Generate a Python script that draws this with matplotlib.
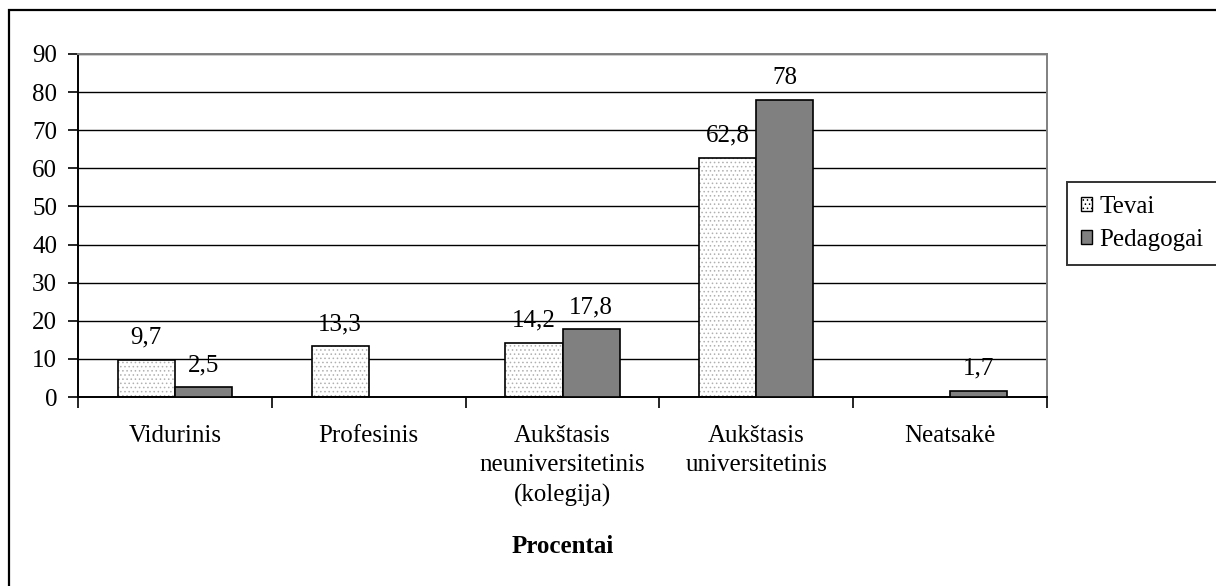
import numpy as np
import matplotlib
matplotlib.use("Agg")
import matplotlib.pyplot as plt
from matplotlib.patches import Rectangle, Patch

plt.rcParams["font.family"] = ["Liberation Serif", "DejaVu Serif"]
plt.rcParams["hatch.linewidth"] = 0.6

# ── data ─────────────────────────────────────────────────────────────────────
categories = ["Vidurinis", "Profesinis", "Aukštasis\nneuniversitetinis\n(kolegija)",
              "Aukštasis\nuniversitetinis", "Neatsakė"]
tevai      = [9.7, 13.3, 14.2, 62.8, None]
pedagogai  = [2.5, None, 17.8, 78, 1.7]
series_names = ["Tevai", "Pedagogai"]
y_ticks    = list(range(0, 91, 10))

FS = 18

fig = plt.figure(figsize=(12.16, 5.86), dpi=100)
ax = fig.add_axes([78 / 1216, 1 - 397 / 586, 969 / 1216, 343 / 586])

# outer chart-area border (clipped on right/bottom like the original)
fig.patches.append(Rectangle((9 / 1216, -0.1), 1.2, 1 - 10 / 586 + 0.1,
                             transform=fig.transFigure, fill=False,
                             edgecolor="black", linewidth=1.6, zorder=0))

x = np.arange(len(categories))
w = 0.295

def fmt(v):
    return ("%g" % v).replace(".", ",")

for i in x:
    if tevai[i] is not None:
        ax.bar(i - w / 2, tevai[i], w, color="white", edgecolor="#b0b0b0",
               hatch="....", linewidth=0, zorder=2)
        ax.bar(i - w / 2, tevai[i], w, fill=False, edgecolor="black",
               linewidth=1.2, zorder=3)
        ax.annotate(fmt(tevai[i]), (i - w / 2, tevai[i]), xytext=(0, 8),
                    textcoords="offset points", ha="center", va="bottom", fontsize=FS)
    if pedagogai[i] is not None:
        ax.bar(i + w / 2, pedagogai[i], w, color="#808080", edgecolor="black",
               linewidth=1.2, zorder=3)
        ax.annotate(fmt(pedagogai[i]), (i + w / 2, pedagogai[i]), xytext=(0, 8),
                    textcoords="offset points", ha="center", va="bottom", fontsize=FS)

ax.set_xlim(-0.5, len(categories) - 0.5)
ax.set_ylim(0, 90)
ax.set_yticks(y_ticks)
ax.tick_params(axis="y", labelsize=FS, length=7, width=1.2, direction="out", pad=8)
ax.yaxis.grid(True, color="black", linewidth=1.0, zorder=0)
ax.set_axisbelow(True)

ax.set_xticks(np.arange(-0.5, len(categories), 1.0))
ax.set_xticklabels([])
ax.set_xticks(x, minor=True)
ax.set_xticklabels(categories, minor=True, fontsize=FS, linespacing=1.45)
ax.tick_params(axis="x", which="major", length=8, width=1.2, direction="out")
ax.tick_params(axis="x", which="minor", length=0, pad=20)

for s in ["left", "bottom"]:
    ax.spines[s].set_linewidth(1.4)
    ax.spines[s].set_color("black")
for s in ["top", "right"]:
    ax.spines[s].set_linewidth(1.4)
    ax.spines[s].set_color("#808080")

ax.set_xlabel("Procentai", fontsize=FS, fontweight="bold", labelpad=20)

handles = [Patch(facecolor="white", edgecolor="black", hatch="....", linewidth=1.0),
           Patch(facecolor="#808080", edgecolor="black", linewidth=1.0)]
leg = fig.legend(handles, series_names, loc="upper left",
                 bbox_to_anchor=(1067 / 1216, 1 - 182 / 586), fontsize=FS,
                 frameon=True, fancybox=False, borderpad=0.55, handlelength=0.45,
                 handleheight=0.45, handletextpad=0.3, labelspacing=0.45,
                 borderaxespad=0)
leg.get_frame().set_edgecolor("black")
leg.get_frame().set_linewidth(1.4)

fig.savefig("out.png", dpi=100)
